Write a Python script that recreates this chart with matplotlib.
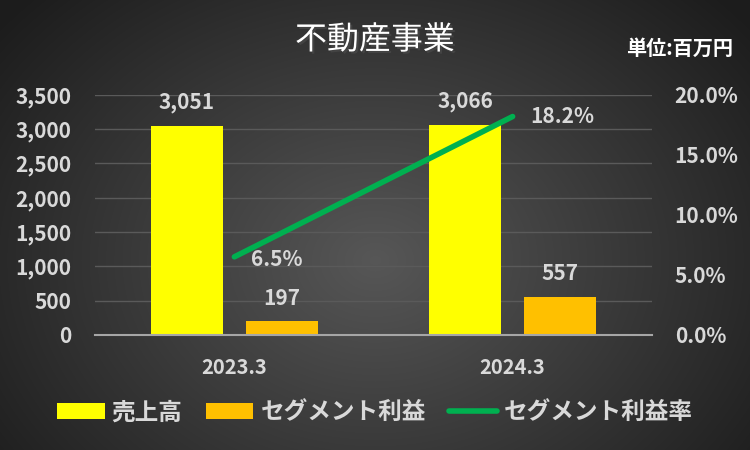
import numpy as np
import matplotlib.pyplot as plt
from matplotlib.ticker import FuncFormatter
import matplotlib.patheffects as pe

plt.rcParams['font.family'] = ['Noto Sans CJK JP', 'DejaVu Sans']

years = ['2023.3', '2024.3']
sales = [3051, 3066]
profit = [197, 557]
margin = [0.065, 0.182]

txt = '#d9d9d9'
fs = 15

fig = plt.figure(figsize=(7.5, 4.5), dpi=100)

# radial gradient background
bg = fig.add_axes([0, 0, 1, 1])
yy, xx = np.mgrid[0:450, 0:750]
r = np.sqrt(((xx - 375) / 420.) ** 2 + ((yy - 260) / 330.) ** 2)
shade = np.clip(0.34 - 0.2 * r, 0.11, 0.34)
bg.imshow(np.dstack([shade] * 3), aspect='auto', extent=[0, 1, 0, 1])
bg.axis('off')

ax = fig.add_axes([0.127, 0.256, 0.742, 0.533])
ax.patch.set_alpha(0)
x = np.arange(len(years))
w = 0.26
b1 = ax.bar(x - 0.17, sales, w, color='#ffff00', label='売上高', zorder=3)
b2 = ax.bar(x + 0.17, profit, w, color='#ffc000', label='セグメント利益', zorder=3)
ax.set_xlim(-0.5, 1.5)
ax.set_ylim(0, 3500)
ax.set_yticks(range(0, 3501, 500))
ax.yaxis.set_major_formatter(FuncFormatter(lambda v, p: f'{int(v):,}'))
ax.grid(axis='y', color='#5a5a5a', lw=1, zorder=0)
ax.set_xticks(x)
ax.set_xticklabels(years)
for s in ['top', 'right', 'left']:
    ax.spines[s].set_visible(False)
ax.spines['bottom'].set_color('#a6a6a6')
ax.spines['bottom'].set_linewidth(1.5)
ax.spines['bottom'].set_zorder(4)
ax.tick_params(axis='both', length=0, colors=txt, labelsize=fs)
ax.tick_params(axis='x', pad=16, labelsize=14.5)
ax.tick_params(axis='y', pad=17)
for lab in ax.get_xticklabels() + ax.get_yticklabels():
    lab.set_fontweight('bold')

for bars in (b1, b2):
    for rect in bars:
        h = rect.get_height()
        ax.annotate(f'{h:,}', (rect.get_x() + rect.get_width() / 2, h),
                    xytext=(0, 9), textcoords='offset points',
                    ha='center', va='bottom', color=txt, fontsize=fs, fontweight='bold')

ax2 = ax.twinx()
ax2.patch.set_alpha(0)
ln, = ax2.plot(x, margin, color='#00b050', lw=4, solid_capstyle='round', label='セグメント利益率')
ax2.set_ylim(0, 0.2)
ax2.set_yticks(np.arange(0, 0.201, 0.05))
ax2.yaxis.set_major_formatter(FuncFormatter(lambda v, p: f'{v * 100:.1f}%'))
for s in ax2.spines.values():
    s.set_visible(False)
ax2.tick_params(axis='y', length=0, colors=txt, labelsize=fs, pad=16.5)
for lab in ax2.get_yticklabels():
    lab.set_fontweight('bold')
ax2.annotate(f'{margin[0] * 100:.1f}%', (x[0], margin[0]), xytext=(12, -2),
             textcoords='offset points', ha='left', va='center',
             color=txt, fontsize=fs, fontweight='bold')
ax2.annotate(f'{margin[1] * 100:.1f}%', (x[1], margin[1]), xytext=(13, 0),
             textcoords='offset points', ha='left', va='center',
             color=txt, fontsize=fs, fontweight='bold')

fig.text(0.5, 0.911, '不動産事業', ha='center', va='center', color='white',
         fontsize=23, path_effects=[pe.withSimplePatchShadow(offset=(1.5, -1.5), alpha=0.6)])
fig.text(0.977, 0.892, '単位:百万円', ha='right', va='center', color='white',
         fontsize=14.5, fontweight='bold')

handles = [b1, b2, ln]
fig.legend(handles, [h.get_label() for h in handles], loc='center',
           bbox_to_anchor=(0.5, 0.084), ncol=3, frameon=False,
           prop={'size': 17, 'weight': 'bold'}, labelcolor=txt,
           handlelength=2.0, handleheight=0.7, columnspacing=1.0, handletextpad=0.3)

fig.savefig('out.png', dpi=100)
